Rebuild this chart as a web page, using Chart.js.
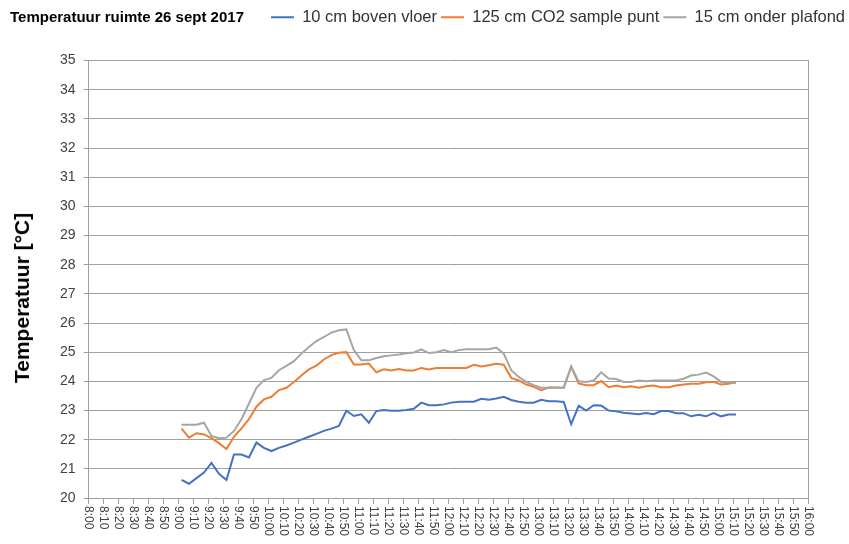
<!DOCTYPE html>
<html>
<head>
<meta charset="utf-8">
<script src="https://cdn.jsdelivr.net/npm/chart.js@4"></script>
<style>
html,body{margin:0;padding:0;background:#fff;}
#wrap{position:relative;width:849px;height:544px;overflow:hidden;}
#title{position:absolute;left:10px;top:8px;font:bold 15px "Liberation Sans",Arial,sans-serif;color:#000;white-space:nowrap;}
#ytitle{position:absolute;left:22px;top:298px;transform:translate(-50%,-50%) rotate(-90deg);font:bold 21px "Liberation Sans",Arial,sans-serif;color:#000;white-space:nowrap;}
</style>
</head>
<body>
<div id="wrap">
<canvas id="c" width="849" height="544"></canvas>
<div id="title">Temperatuur ruimte 26 sept 2017</div>
<div id="ytitle">Temperatuur [°C]</div>
</div>
<script>
const seriesNames = ["10 cm boven vloer", "125 cm CO2 sample punt", "15 cm onder plafond"];

const times = [
"9:02","9:07","9:12","9:17","9:22","9:27","9:32","9:37","9:42","9:47","9:52","9:57",
"10:02","10:07","10:12","10:17","10:22","10:27","10:32","10:37","10:42","10:47","10:52","10:57",
"11:02","11:07","11:12","11:17","11:22","11:27","11:32","11:37","11:42","11:47","11:52","11:57",
"12:02","12:07","12:12","12:17","12:22","12:27","12:32","12:37","12:42","12:47","12:52","12:57",
"13:02","13:07","13:12","13:17","13:22","13:27","13:32","13:37","13:42","13:47","13:52","13:57",
"14:02","14:07","14:12","14:17","14:22","14:27","14:32","14:37","14:42","14:47","14:52","14:57",
"15:02","15:07","15:12"];

const vloer = [
20.62,20.49,20.68,20.87,21.20,20.83,20.62,21.49,21.49,21.39,21.90,21.72,
21.61,21.72,21.80,21.90,22.00,22.10,22.20,22.30,22.38,22.47,22.99,22.81,
22.87,22.58,22.98,23.02,22.99,22.99,23.02,23.06,23.27,23.18,23.18,23.21,
23.27,23.30,23.30,23.30,23.40,23.37,23.41,23.47,23.36,23.30,23.27,23.27,
23.37,23.32,23.32,23.29,22.53,23.16,23.00,23.18,23.17,23.00,22.97,22.92,
22.90,22.87,22.91,22.87,22.98,22.98,22.91,22.91,22.80,22.85,22.80,22.91,
22.80,22.86,22.86];

const co2punt = [
22.38,22.07,22.22,22.18,22.05,21.88,21.68,22.10,22.39,22.70,23.13,23.38,
23.47,23.70,23.78,23.98,24.20,24.41,24.54,24.75,24.90,24.98,25.00,24.58,
24.58,24.61,24.31,24.41,24.37,24.42,24.37,24.37,24.46,24.41,24.46,24.46,
24.46,24.46,24.46,24.57,24.51,24.55,24.60,24.57,24.12,24.03,23.89,23.81,
23.70,23.79,23.79,23.78,24.50,23.93,23.87,23.87,24.01,23.80,23.86,23.80,
23.83,23.78,23.83,23.86,23.80,23.80,23.86,23.89,23.92,23.92,23.97,23.98,
23.89,23.92,23.98];

const plafond = [
22.51,22.51,22.51,22.58,22.13,22.05,22.07,22.30,22.70,23.24,23.78,24.04,
24.12,24.38,24.53,24.69,24.95,25.18,25.38,25.52,25.67,25.75,25.78,25.07,
24.72,24.72,24.80,24.86,24.89,24.92,24.96,24.99,25.10,24.97,25.00,25.07,
25.00,25.07,25.10,25.10,25.10,25.10,25.16,24.95,24.38,24.15,23.98,23.87,
23.78,23.78,23.78,23.78,24.50,24.00,23.98,24.03,24.31,24.10,24.08,23.98,
23.98,24.03,24.00,24.03,24.03,24.03,24.03,24.09,24.20,24.23,24.30,24.17,
23.98,23.98,23.94];

const xTickLabels = [
"8:00","8:10","8:20","8:30","8:40","8:50","9:00","9:10","9:20","9:30","9:40","9:50",
"10:00","10:10","10:20","10:30","10:40","10:50","11:00","11:10","11:20","11:30","11:40","11:50",
"12:00","12:10","12:20","12:30","12:40","12:50","13:00","13:10","13:20","13:30","13:40","13:50",
"14:00","14:10","14:20","14:30","14:40","14:50","15:00","15:10","15:20","15:30","15:40","15:50","16:00"];

const yMin = 20, yMax = 35, yStep = 1;

function toMin(s){ const p = s.split(":"); return parseInt(p[0],10)*60 + parseInt(p[1],10); }
function pts(arr){ return times.map((t,i)=>({x: toMin(t), y: arr[i]})); }

const GRID = '#a0a0a0';
const colors = ['#4472C4', '#ED7D31', '#A5A5A5'];

const xLabelPlugin = {
  id: 'xLabels',
  afterDraw(chart){
    const xs = chart.scales.x;
    const ctx = chart.ctx;
    ctx.save();
    ctx.font = '12px "Liberation Sans", Arial, sans-serif';
    ctx.fillStyle = '#404040';
    ctx.textAlign = 'left';
    ctx.textBaseline = 'middle';
    xTickLabels.forEach(lbl => {
      const x = xs.getPixelForValue(toMin(lbl));
      ctx.save();
      ctx.translate(x, xs.bottom + 2);
      ctx.rotate(Math.PI/2);
      ctx.fillText(lbl, 0, 0);
      ctx.restore();
    });
    ctx.restore();
  }
};

const legendMargin = {
  id: 'legendMargin',
  beforeInit(chart){
    const orig = chart.legend.fit;
    chart.legend.fit = function(){ orig.call(this); this.height += 25; };
  }
};

new Chart(document.getElementById('c'), {
  type: 'line',
  data: {
    datasets: [
      {label: seriesNames[0], data: pts(vloer), borderColor: colors[0], backgroundColor: colors[0], order: 3},
      {label: seriesNames[1], data: pts(co2punt), borderColor: colors[1], backgroundColor: colors[1], order: 2},
      {label: seriesNames[2], data: pts(plafond), borderColor: colors[2], backgroundColor: colors[2], order: 1}
    ]
  },
  options: {
    responsive: false,
    animation: false,
    devicePixelRatio: 1,
    layout: {padding: {left: 52, right: 0, top: 5, bottom: 40}},
    elements: {
      line: {borderWidth: 2, tension: 0},
      point: {radius: 0, hoverRadius: 0}
    },
    plugins: {
      tooltip: {enabled: false},
      title: {display: false},
      legend: {
        display: true,
        position: 'top',
        align: 'end',
        labels: {
          boxWidth: 23,
          boxHeight: 2,
          padding: 4,
          color: '#333',
          font: {size: 16.5, family: '"Liberation Sans", Arial, sans-serif'},
          sort: (a, b) => a.datasetIndex - b.datasetIndex,
          generateLabels(chart){
            const items = Chart.defaults.plugins.legend.labels.generateLabels(chart);
            items.forEach(it => { it.fillStyle = it.strokeStyle; it.lineWidth = 0; });
            return items;
          }
        }
      }
    },
    scales: {
      x: {
        type: 'linear',
        min: toMin(xTickLabels[0]),
        max: toMin(xTickLabels[xTickLabels.length-1]),
        ticks: {display: false, stepSize: 10, autoSkip: false, maxTicksLimit: 200},
        grid: {drawOnChartArea: false, drawTicks: true, tickLength: 6, tickColor: GRID, color: GRID},
        border: {display: true, color: GRID, width: 1}
      },
      y: {
        type: 'linear',
        position: 'left',
        min: yMin, max: yMax,
        ticks: {stepSize: yStep, padding: 8, color: '#404040', font: {size: 14, family: '"Liberation Sans", Arial, sans-serif'}},
        grid: {color: GRID, tickColor: GRID, tickLength: 5, drawTicks: true},
        border: {display: true, color: GRID, width: 1}
      },
      y2: {
        type: 'linear',
        position: 'right',
        min: yMin, max: yMax,
        ticks: {display: false},
        grid: {display: false, drawTicks: false},
        border: {display: true, color: GRID, width: 1},
        afterFit(scale){ scale.width = 41; }
      }
    }
  },
  plugins: [xLabelPlugin, legendMargin]
});
</script>
</body>
</html>
